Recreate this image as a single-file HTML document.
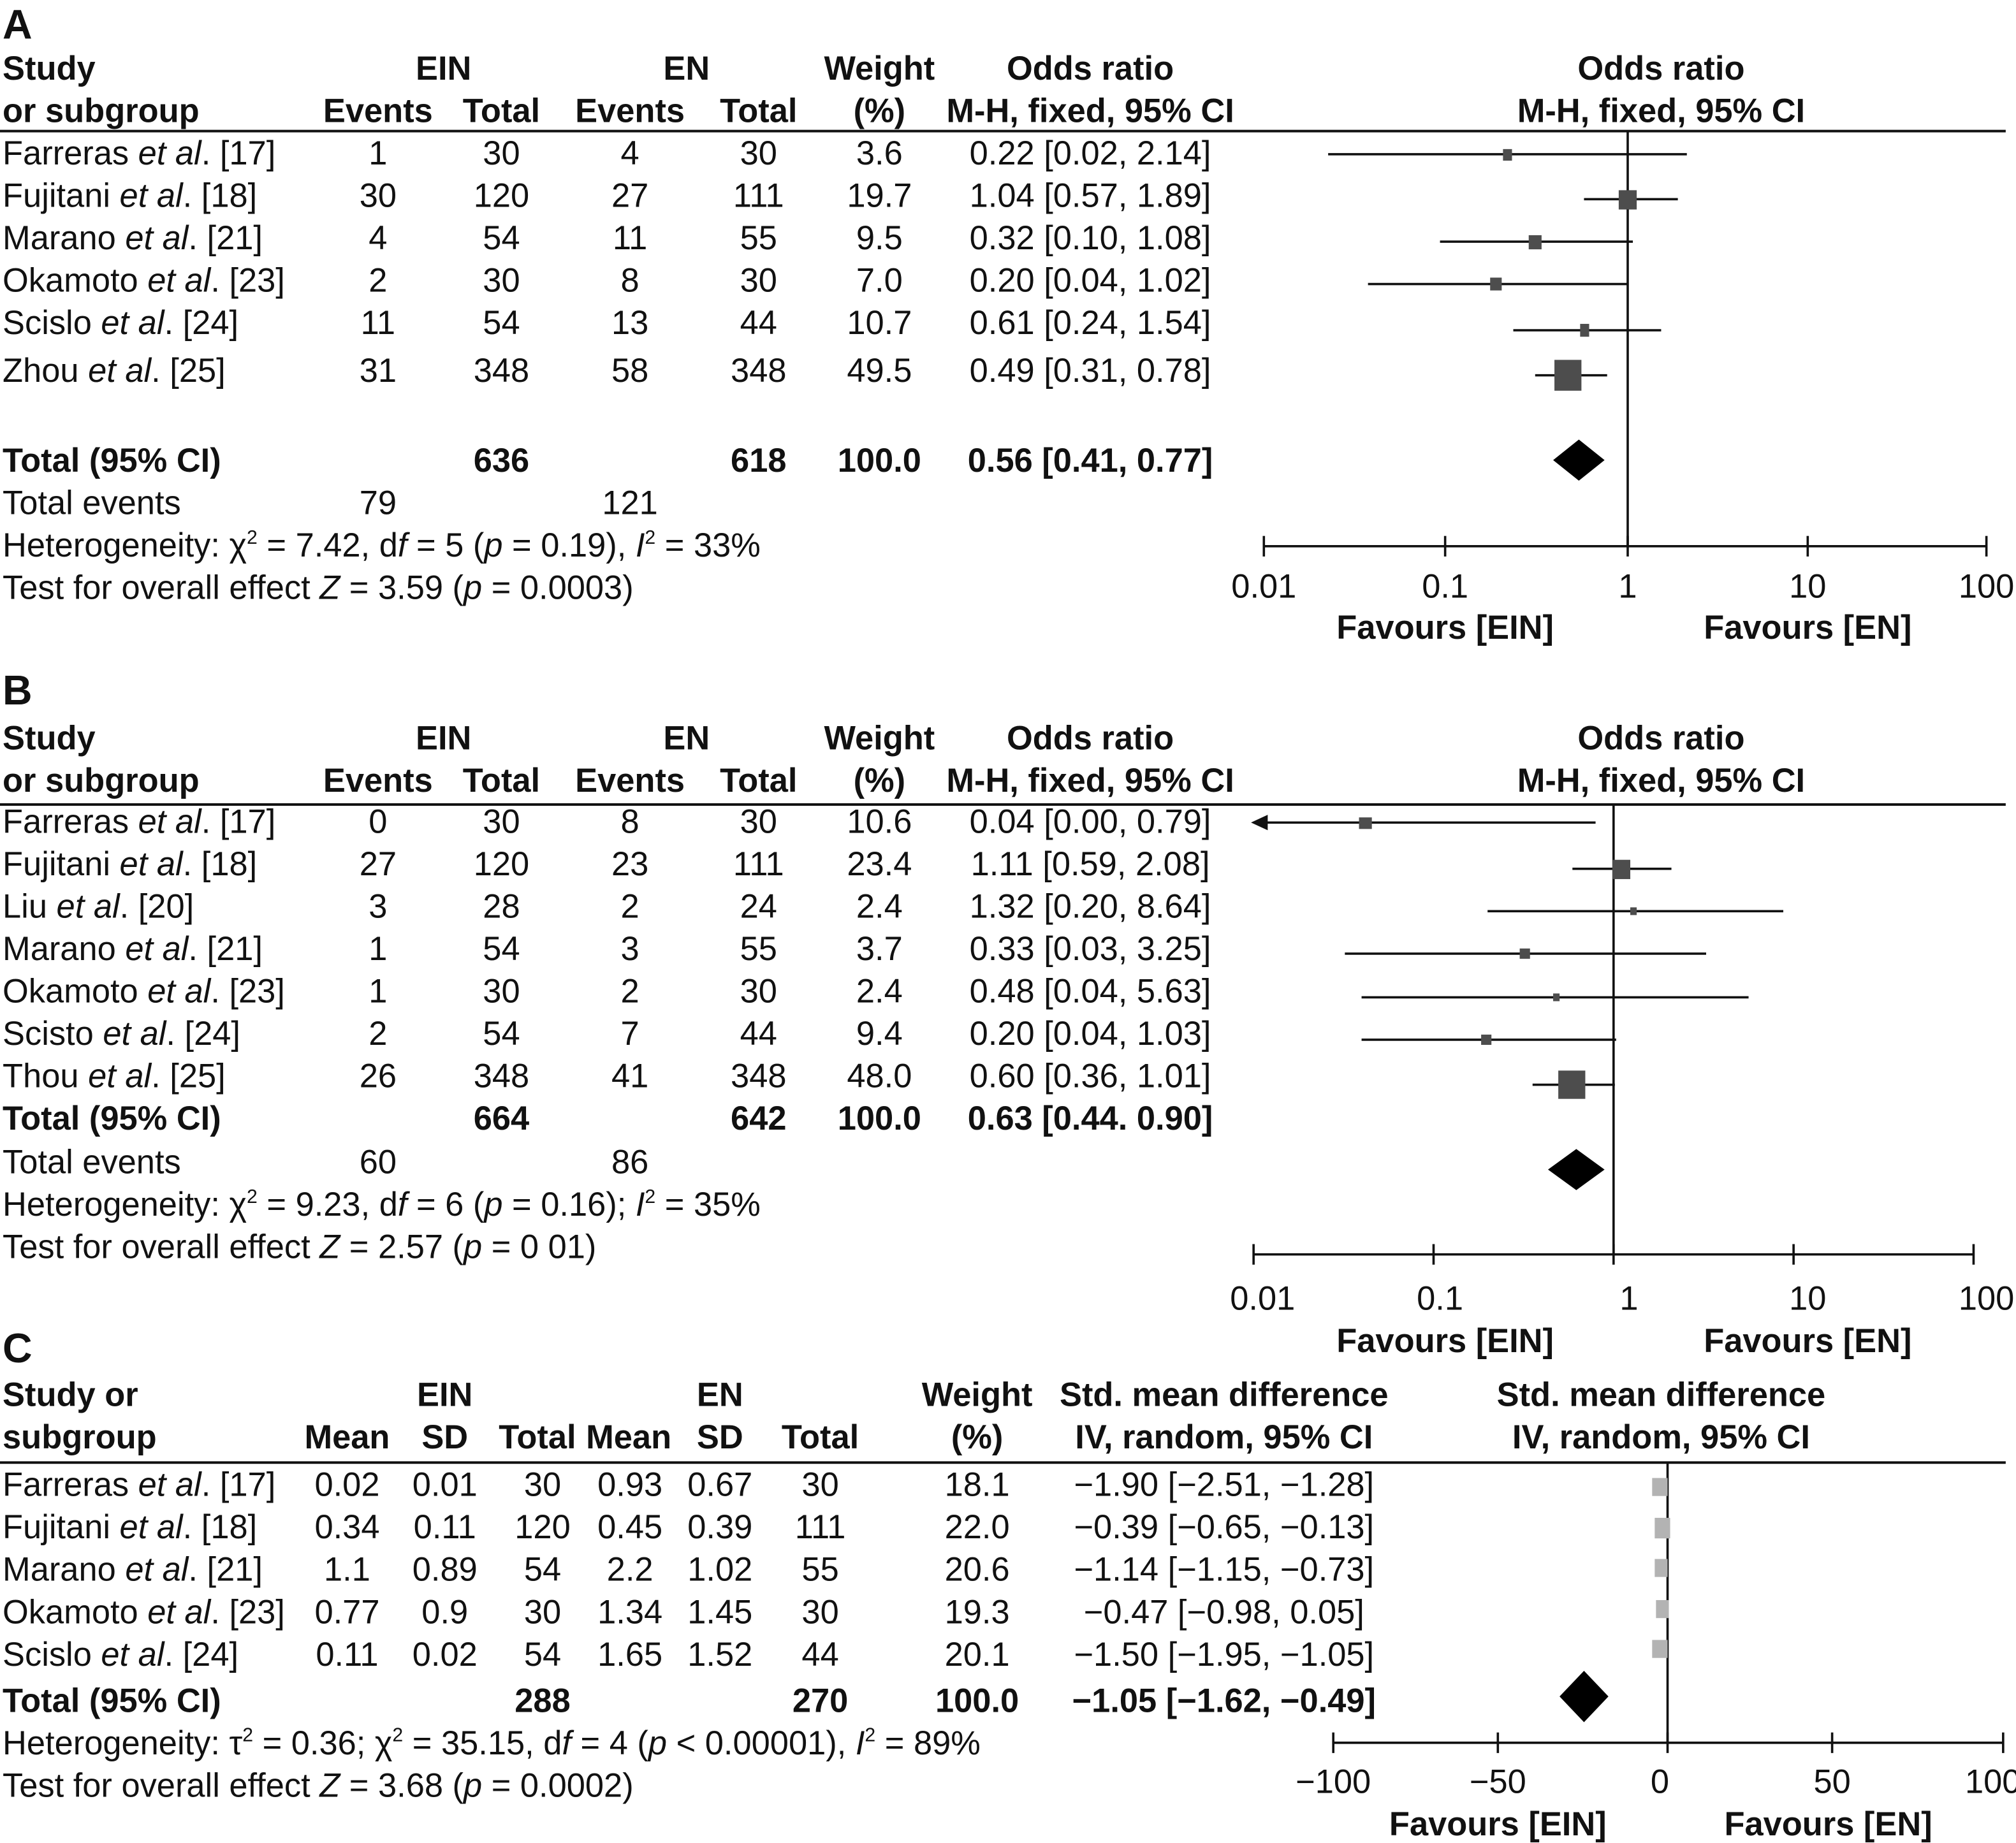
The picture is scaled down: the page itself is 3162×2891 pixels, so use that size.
<!DOCTYPE html>
<html><head><meta charset="utf-8"><style>
html,body{margin:0;padding:0;background:#fff;}
svg{display:block;}
text{font-family:"Liberation Sans",sans-serif;font-size:26px;fill:#111;}
.b{font-weight:bold;}
.m{text-anchor:middle;}
.L{font-size:32px;font-weight:bold;}
</style></head><body>
<svg width="3162" height="2891" viewBox="0 0 1568 1434" preserveAspectRatio="none" xmlns="http://www.w3.org/2000/svg">
<rect width="1568" height="1434" fill="#fff"/>
<!-- ============ A ============ -->
<text x="2" y="30" class="L">A</text>
<text x="2" y="62" class="b">Study</text>
<text x="2" y="95" class="b">or subgroup</text>
<text x="345" y="62" class="b m">EIN</text>
<text x="534" y="62" class="b m">EN</text>
<text x="294" y="95" class="b m">Events</text>
<text x="390" y="95" class="b m">Total</text>
<text x="490" y="95" class="b m">Events</text>
<text x="590" y="95" class="b m">Total</text>
<text x="684" y="62" class="b m">Weight</text>
<text x="684" y="95" class="b m">(%)</text>
<text x="848" y="62" class="b m">Odds ratio</text>
<text x="848" y="95" class="b m">M-H, fixed, 95% CI</text>
<text x="1292" y="62" class="b m">Odds ratio</text>
<text x="1292" y="95" class="b m">M-H, fixed, 95% CI</text>
<line x1="0" y1="102" x2="1560" y2="102" stroke="#111" stroke-width="2"/>
<text x="2" y="128">Farreras <tspan font-style="italic">et al</tspan>. [17]</text>
<text x="2" y="161">Fujitani <tspan font-style="italic">et al</tspan>. [18]</text>
<text x="2" y="194">Marano <tspan font-style="italic">et al</tspan>. [21]</text>
<text x="2" y="227">Okamoto <tspan font-style="italic">et al</tspan>. [23]</text>
<text x="2" y="260">Scislo <tspan font-style="italic">et al</tspan>. [24]</text>
<text x="2" y="297">Zhou <tspan font-style="italic">et al</tspan>. [25]</text>
<text x="294" y="128" class="m">1</text><text x="390" y="128" class="m">30</text><text x="490" y="128" class="m">4</text><text x="590" y="128" class="m">30</text><text x="684" y="128" class="m">3.6</text><text x="848" y="128" class="m">0.22 [0.02, 2.14]</text>
<text x="294" y="161" class="m">30</text><text x="390" y="161" class="m">120</text><text x="490" y="161" class="m">27</text><text x="590" y="161" class="m">111</text><text x="684" y="161" class="m">19.7</text><text x="848" y="161" class="m">1.04 [0.57, 1.89]</text>
<text x="294" y="194" class="m">4</text><text x="390" y="194" class="m">54</text><text x="490" y="194" class="m">11</text><text x="590" y="194" class="m">55</text><text x="684" y="194" class="m">9.5</text><text x="848" y="194" class="m">0.32 [0.10, 1.08]</text>
<text x="294" y="227" class="m">2</text><text x="390" y="227" class="m">30</text><text x="490" y="227" class="m">8</text><text x="590" y="227" class="m">30</text><text x="684" y="227" class="m">7.0</text><text x="848" y="227" class="m">0.20 [0.04, 1.02]</text>
<text x="294" y="260" class="m">11</text><text x="390" y="260" class="m">54</text><text x="490" y="260" class="m">13</text><text x="590" y="260" class="m">44</text><text x="684" y="260" class="m">10.7</text><text x="848" y="260" class="m">0.61 [0.24, 1.54]</text>
<text x="294" y="297" class="m">31</text><text x="390" y="297" class="m">348</text><text x="490" y="297" class="m">58</text><text x="590" y="297" class="m">348</text><text x="684" y="297" class="m">49.5</text><text x="848" y="297" class="m">0.49 [0.31, 0.78]</text>
<text x="2" y="367" class="b">Total (95% CI)</text>
<text x="390" y="367" class="b m">636</text><text x="590" y="367" class="b m">618</text><text x="684" y="367" class="b m">100.0</text><text x="848" y="367" class="b m">0.56 [0.41, 0.77]</text>
<text x="2" y="400">Total events</text><text x="294" y="400" class="m">79</text><text x="490" y="400" class="m">121</text>
<text x="2" y="433">Heterogeneity: χ<tspan dy="-10" font-size="15">2</tspan><tspan dy="10"> = 7.42, d</tspan><tspan font-style="italic">f</tspan> = 5 (<tspan font-style="italic">p</tspan> = 0.19), <tspan font-style="italic">I</tspan><tspan dy="-10" font-size="15">2</tspan><tspan dy="10"> = 33%</tspan></text>
<text x="2" y="466">Test for overall effect <tspan font-style="italic">Z</tspan> = 3.59 (<tspan font-style="italic">p</tspan> = 0.0003)</text>
<g stroke="#111" stroke-width="1.8" fill="none">
<line x1="1266" y1="102" x2="1266" y2="425"/>
<line x1="983" y1="425" x2="1545" y2="425"/>
<line x1="983" y1="417" x2="983" y2="433"/><line x1="1124" y1="417" x2="1124" y2="433"/><line x1="1266" y1="417" x2="1266" y2="433"/><line x1="1406" y1="417" x2="1406" y2="433"/><line x1="1545" y1="417" x2="1545" y2="433"/>
<line x1="1033" y1="120" x2="1312" y2="120"/>
<line x1="1232" y1="155" x2="1305" y2="155"/>
<line x1="1120" y1="188" x2="1270" y2="188"/>
<line x1="1064" y1="221" x2="1266" y2="221"/>
<line x1="1177" y1="257" x2="1292" y2="257"/>
<line x1="1194" y1="292" x2="1250" y2="292"/>
</g>
<g fill="#4d4d4d">
<rect x="1169" y="116" width="7" height="9"/>
<rect x="1259" y="148" width="14" height="15"/>
<rect x="1189" y="183" width="10" height="11"/>
<rect x="1159" y="216" width="9" height="10"/>
<rect x="1229" y="252" width="7" height="10"/>
<rect x="1209" y="280" width="21" height="24"/>
</g>
<polygon points="1208,358 1228,342 1248,358 1228,374" fill="#000"/>
<text x="983" y="465" class="m">0.01</text><text x="1124" y="465" class="m">0.1</text><text x="1266" y="465" class="m">1</text><text x="1406" y="465" class="m">10</text><text x="1545" y="465" class="m">100</text>
<text x="1124" y="497" class="b m">Favours [EIN]</text><text x="1406" y="497" class="b m">Favours [EN]</text>

<!-- ============ B ============ -->
<text x="2" y="548" class="L">B</text>
<text x="2" y="583" class="b">Study</text>
<text x="2" y="616" class="b">or subgroup</text>
<text x="345" y="583" class="b m">EIN</text>
<text x="534" y="583" class="b m">EN</text>
<text x="294" y="616" class="b m">Events</text>
<text x="390" y="616" class="b m">Total</text>
<text x="490" y="616" class="b m">Events</text>
<text x="590" y="616" class="b m">Total</text>
<text x="684" y="583" class="b m">Weight</text>
<text x="684" y="616" class="b m">(%)</text>
<text x="848" y="583" class="b m">Odds ratio</text>
<text x="848" y="616" class="b m">M-H, fixed, 95% CI</text>
<text x="1292" y="583" class="b m">Odds ratio</text>
<text x="1292" y="616" class="b m">M-H, fixed, 95% CI</text>
<line x1="0" y1="626" x2="1560" y2="626" stroke="#111" stroke-width="2"/>
<text x="2" y="648">Farreras <tspan font-style="italic">et al</tspan>. [17]</text>
<text x="2" y="681">Fujitani <tspan font-style="italic">et al</tspan>. [18]</text>
<text x="2" y="714">Liu <tspan font-style="italic">et al</tspan>. [20]</text>
<text x="2" y="747">Marano <tspan font-style="italic">et al</tspan>. [21]</text>
<text x="2" y="780">Okamoto <tspan font-style="italic">et al</tspan>. [23]</text>
<text x="2" y="813">Scisto <tspan font-style="italic">et al</tspan>. [24]</text>
<text x="2" y="846">Thou <tspan font-style="italic">et al</tspan>. [25]</text>
<text x="294" y="648" class="m">0</text><text x="390" y="648" class="m">30</text><text x="490" y="648" class="m">8</text><text x="590" y="648" class="m">30</text><text x="684" y="648" class="m">10.6</text><text x="848" y="648" class="m">0.04 [0.00, 0.79]</text>
<text x="294" y="681" class="m">27</text><text x="390" y="681" class="m">120</text><text x="490" y="681" class="m">23</text><text x="590" y="681" class="m">111</text><text x="684" y="681" class="m">23.4</text><text x="848" y="681" class="m">1.11 [0.59, 2.08]</text>
<text x="294" y="714" class="m">3</text><text x="390" y="714" class="m">28</text><text x="490" y="714" class="m">2</text><text x="590" y="714" class="m">24</text><text x="684" y="714" class="m">2.4</text><text x="848" y="714" class="m">1.32 [0.20, 8.64]</text>
<text x="294" y="747" class="m">1</text><text x="390" y="747" class="m">54</text><text x="490" y="747" class="m">3</text><text x="590" y="747" class="m">55</text><text x="684" y="747" class="m">3.7</text><text x="848" y="747" class="m">0.33 [0.03, 3.25]</text>
<text x="294" y="780" class="m">1</text><text x="390" y="780" class="m">30</text><text x="490" y="780" class="m">2</text><text x="590" y="780" class="m">30</text><text x="684" y="780" class="m">2.4</text><text x="848" y="780" class="m">0.48 [0.04, 5.63]</text>
<text x="294" y="813" class="m">2</text><text x="390" y="813" class="m">54</text><text x="490" y="813" class="m">7</text><text x="590" y="813" class="m">44</text><text x="684" y="813" class="m">9.4</text><text x="848" y="813" class="m">0.20 [0.04, 1.03]</text>
<text x="294" y="846" class="m">26</text><text x="390" y="846" class="m">348</text><text x="490" y="846" class="m">41</text><text x="590" y="846" class="m">348</text><text x="684" y="846" class="m">48.0</text><text x="848" y="846" class="m">0.60 [0.36, 1.01]</text>
<text x="2" y="879" class="b">Total (95% CI)</text>
<text x="390" y="879" class="b m">664</text><text x="590" y="879" class="b m">642</text><text x="684" y="879" class="b m">100.0</text><text x="848" y="879" class="b m">0.63 [0.44. 0.90]</text>
<text x="2" y="913">Total events</text><text x="294" y="913" class="m">60</text><text x="490" y="913" class="m">86</text>
<text x="2" y="946">Heterogeneity: χ<tspan dy="-10" font-size="15">2</tspan><tspan dy="10"> = 9.23, d</tspan><tspan font-style="italic">f</tspan> = 6 (<tspan font-style="italic">p</tspan> = 0.16); <tspan font-style="italic">I</tspan><tspan dy="-10" font-size="15">2</tspan><tspan dy="10"> = 35%</tspan></text>
<text x="2" y="979">Test for overall effect <tspan font-style="italic">Z</tspan> = 2.57 (<tspan font-style="italic">p</tspan> = 0 01)</text>
<g stroke="#111" stroke-width="1.8" fill="none">
<line x1="1255" y1="626" x2="1255" y2="976"/>
<line x1="975" y1="976" x2="1535" y2="976"/>
<line x1="975" y1="968" x2="975" y2="984"/><line x1="1115" y1="968" x2="1115" y2="984"/><line x1="1255" y1="968" x2="1255" y2="984"/><line x1="1395" y1="968" x2="1395" y2="984"/><line x1="1535" y1="968" x2="1535" y2="984"/>
<line x1="980" y1="640" x2="1241" y2="640"/>
<line x1="1223" y1="676" x2="1300" y2="676"/>
<line x1="1157" y1="709" x2="1387" y2="709"/>
<line x1="1046" y1="742" x2="1327" y2="742"/>
<line x1="1059" y1="776" x2="1360" y2="776"/>
<line x1="1059" y1="809" x2="1257" y2="809"/>
<line x1="1192" y1="844" x2="1256" y2="844"/>
</g>
<polygon points="973,640 986,634 986,646" fill="#111"/>
<g fill="#4d4d4d">
<rect x="1057" y="636" width="10" height="9"/>
<rect x="1254" y="669" width="14" height="15"/>
<rect x="1268" y="706" width="5" height="6"/>
<rect x="1182" y="738" width="8" height="8"/>
<rect x="1208" y="773" width="5" height="6"/>
<rect x="1152" y="805" width="8" height="8"/>
<rect x="1212" y="833" width="21" height="22"/>
</g>
<polygon points="1204,910 1226,894 1248,910 1226,926" fill="#000"/>
<text x="982" y="1019" class="m">0.01</text><text x="1120" y="1019" class="m">0.1</text><text x="1267" y="1019" class="m">1</text><text x="1406" y="1019" class="m">10</text><text x="1545" y="1019" class="m">100</text>
<text x="1124" y="1052" class="b m">Favours [EIN]</text><text x="1406" y="1052" class="b m">Favours [EN]</text>

<!-- ============ C ============ -->
<text x="2" y="1060" class="L">C</text>
<text x="2" y="1094" class="b">Study or</text>
<text x="2" y="1127" class="b">subgroup</text>
<text x="346" y="1094" class="b m">EIN</text>
<text x="560" y="1094" class="b m">EN</text>
<text x="270" y="1127" class="b m">Mean</text>
<text x="346" y="1127" class="b m">SD</text>
<text x="418" y="1127" class="b m">Total</text>
<text x="489" y="1127" class="b m">Mean</text>
<text x="560" y="1127" class="b m">SD</text>
<text x="638" y="1127" class="b m">Total</text>
<text x="760" y="1094" class="b m">Weight</text>
<text x="760" y="1127" class="b m">(%)</text>
<text x="952" y="1094" class="b m">Std. mean difference</text>
<text x="952" y="1127" class="b m">IV, random, 95% CI</text>
<text x="1292" y="1094" class="b m">Std. mean difference</text>
<text x="1292" y="1127" class="b m">IV, random, 95% CI</text>
<line x1="0" y1="1138" x2="1560" y2="1138" stroke="#111" stroke-width="2"/>
<text x="2" y="1164">Farreras <tspan font-style="italic">et al</tspan>. [17]</text>
<text x="2" y="1197">Fujitani <tspan font-style="italic">et al</tspan>. [18]</text>
<text x="2" y="1230">Marano <tspan font-style="italic">et al</tspan>. [21]</text>
<text x="2" y="1263">Okamoto <tspan font-style="italic">et al</tspan>. [23]</text>
<text x="2" y="1296">Scislo <tspan font-style="italic">et al</tspan>. [24]</text>
<text x="270" y="1164" class="m">0.02</text><text x="346" y="1164" class="m">0.01</text><text x="422" y="1164" class="m">30</text><text x="490" y="1164" class="m">0.93</text><text x="560" y="1164" class="m">0.67</text><text x="638" y="1164" class="m">30</text><text x="760" y="1164" class="m">18.1</text><text x="952" y="1164" class="m">−1.90 [−2.51, −1.28]</text>
<text x="270" y="1197" class="m">0.34</text><text x="346" y="1197" class="m">0.11</text><text x="422" y="1197" class="m">120</text><text x="490" y="1197" class="m">0.45</text><text x="560" y="1197" class="m">0.39</text><text x="638" y="1197" class="m">111</text><text x="760" y="1197" class="m">22.0</text><text x="952" y="1197" class="m">−0.39 [−0.65, −0.13]</text>
<text x="270" y="1230" class="m">1.1</text><text x="346" y="1230" class="m">0.89</text><text x="422" y="1230" class="m">54</text><text x="490" y="1230" class="m">2.2</text><text x="560" y="1230" class="m">1.02</text><text x="638" y="1230" class="m">55</text><text x="760" y="1230" class="m">20.6</text><text x="952" y="1230" class="m">−1.14 [−1.15, −0.73]</text>
<text x="270" y="1263" class="m">0.77</text><text x="346" y="1263" class="m">0.9</text><text x="422" y="1263" class="m">30</text><text x="490" y="1263" class="m">1.34</text><text x="560" y="1263" class="m">1.45</text><text x="638" y="1263" class="m">30</text><text x="760" y="1263" class="m">19.3</text><text x="952" y="1263" class="m">−0.47 [−0.98, 0.05]</text>
<text x="270" y="1296" class="m">0.11</text><text x="346" y="1296" class="m">0.02</text><text x="422" y="1296" class="m">54</text><text x="490" y="1296" class="m">1.65</text><text x="560" y="1296" class="m">1.52</text><text x="638" y="1296" class="m">44</text><text x="760" y="1296" class="m">20.1</text><text x="952" y="1296" class="m">−1.50 [−1.95, −1.05]</text>
<text x="2" y="1332" class="b">Total (95% CI)</text>
<text x="422" y="1332" class="b m">288</text><text x="638" y="1332" class="b m">270</text><text x="760" y="1332" class="b m">100.0</text><text x="952" y="1332" class="b m">−1.05 [−1.62, −0.49]</text>
<text x="2" y="1365">Heterogeneity: τ<tspan dy="-10" font-size="15">2</tspan><tspan dy="10"> = 0.36; χ</tspan><tspan dy="-10" font-size="15">2</tspan><tspan dy="10"> = 35.15, d</tspan><tspan font-style="italic">f</tspan> = 4 (<tspan font-style="italic">p</tspan> &lt; 0.00001), <tspan font-style="italic">I</tspan><tspan dy="-10" font-size="15">2</tspan><tspan dy="10"> = 89%</tspan></text>
<text x="2" y="1398">Test for overall effect <tspan font-style="italic">Z</tspan> = 3.68 (<tspan font-style="italic">p</tspan> = 0.0002)</text>
<g stroke="#111" stroke-width="1.8" fill="none">
<line x1="1297" y1="1138" x2="1297" y2="1356"/>
<line x1="1037" y1="1356" x2="1558" y2="1356"/>
<line x1="1037" y1="1348" x2="1037" y2="1364"/><line x1="1165" y1="1348" x2="1165" y2="1364"/><line x1="1297" y1="1348" x2="1297" y2="1364"/><line x1="1425" y1="1348" x2="1425" y2="1364"/><line x1="1558" y1="1348" x2="1558" y2="1364"/>
</g>
<g fill="#b3b3b3">
<rect x="1285" y="1150" width="12" height="14"/>
<rect x="1287" y="1181" width="12" height="16"/>
<rect x="1287" y="1213" width="10" height="14"/>
<rect x="1288" y="1245" width="10" height="14"/>
<rect x="1285" y="1276" width="12" height="14"/>
</g>
<polygon points="1213,1320 1232,1300 1251,1320 1232,1340" fill="#000"/>
<text x="1037" y="1395" class="m">−100</text><text x="1165" y="1395" class="m">−50</text><text x="1291" y="1395" class="m">0</text><text x="1425" y="1395" class="m">50</text><text x="1550" y="1395" class="m">100</text>
<text x="1165" y="1428" class="b m">Favours [EIN]</text><text x="1422" y="1428" class="b m">Favours [EN]</text>
</svg>
</body></html>
